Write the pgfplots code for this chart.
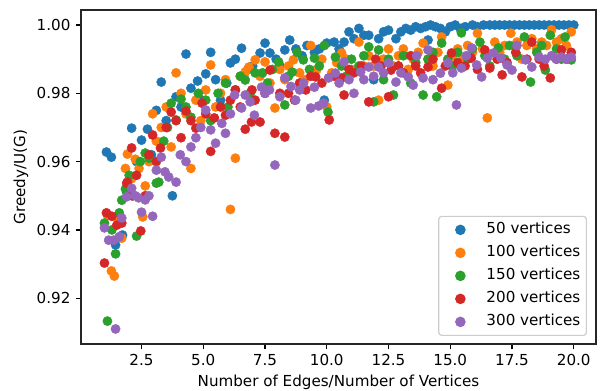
\documentclass[border=0pt]{standalone}
\usepackage{pgfplots}
\pgfplotsset{compat=1.18}
\usepackage{fontspec}
\setmainfont{DejaVu Sans}
\definecolor{c1}{HTML}{1F77B4}
\definecolor{c2}{HTML}{FF7F0E}
\definecolor{c3}{HTML}{2CA02C}
\definecolor{c4}{HTML}{D62728}
\definecolor{c5}{HTML}{9467BD}
\begin{document}
\fontsize{15.2}{18}\selectfont
\begin{tikzpicture}
\begin{axis}[
  scale only axis, width=515bp, height=334bp,
  xmin=0.05, xmax=20.9, ymin=0.9066, ymax=1.0044,
  xtick={2.5,5,7.5,10,12.5,15,17.5,20},
  ytick={0.92,0.94,0.96,0.98,1.00},
  /pgf/number format/assume math mode=true,
  xticklabel style={/pgf/number format/.cd, fixed, fixed zerofill, precision=1},
  yticklabel style={/pgf/number format/.cd, fixed, fixed zerofill, precision=2},
  scaled y ticks=false, scaled x ticks=false,
  tick align=outside, tick pos=left, major tick length=5.3bp,
  tick style={black, line width=1.2bp},
  axis line style={line width=1.2bp, black!85},
  xlabel={Number of Edges/Number of Vertices},
  ylabel={Greedy/U(G)},
  xlabel style={at={(axis description cs:0.5,-0.114)}, anchor=center, inner sep=0pt},
  ylabel style={at={(axis description cs:-0.1165,0.5)}, anchor=center, inner sep=0pt},
  every axis label/.append style={font=\fontsize{15.2}{18}\selectfont},
  ticklabel style={font=\fontsize{15.2}{18}\selectfont},
  legend style={draw=black!20, line width=1.2bp, rounded corners=3bp, fill=white, fill opacity=0.8, text opacity=1,
    font=\fontsize{15.2}{18}\selectfont, at={(0.9825,0.024)}, anchor=south east,
    inner xsep=6bp, inner ysep=6.5bp, row sep=9bp, column sep=0pt,
    nodes={inner xsep=0pt, inner ysep=0pt, text height=11bp, text depth=3bp}},
  legend cell align=left,
  legend image code/.code={\path (-15bp,0bp) (25.5bp,0bp); \draw[#1] plot coordinates {(0bp,0bp)};},
  every axis plot/.append style={only marks, mark=*, mark size=4.65bp},
]
\addplot[c1, mark options={draw=none, fill=c1, fill opacity=1}] coordinates {
(1.08,0.9628)(1.28,0.9613)(1.45,0.9356)(1.6,0.9430)(1.73,0.9385)(1.9,0.9510)(2.1,0.9698)(2.3,0.9600)(2.5,0.9663)(2.74,0.9695)(2.9,0.9620)(3.1,0.9750)(3.3,0.9833)(3.5,0.9720)(3.75,0.9500)(3.9,0.9790)(4.1,0.9760)(4.3,0.9915)(4.5,0.9815)(4.77,0.9836)(4.95,0.9780)(5.1,0.9857)(5.3,0.9920)(5.5,0.9840)(5.7,0.9780)(5.95,0.9830)(6.1,0.9889)(6.3,0.9900)(6.55,0.9932)(6.8,0.9870)(7.0,0.9880)(7.3,0.9918)(7.5,0.9947)(7.7,0.9918)(7.95,0.9900)(8.1,0.9880)(8.3,0.9927)(8.5,0.9956)(8.75,0.9930)(9.0,0.9910)(9.2,0.9940)(9.5,0.9920)(9.7,0.9930)(9.9,0.9780)(10.0,0.9947)(10.3,0.9950)(10.5,0.9930)(10.7,0.9950)(10.9,0.9980)(11.1,0.9960)(11.3,0.9990)(11.5,0.9970)(11.7,0.9970)(11.9,0.9840)(12.1,0.9960)(12.3,0.9980)(12.5,0.9985)(12.8,0.9960)(13.0,0.9980)(13.2,0.9990)(13.4,0.9985)(13.6,0.9995)(13.8,0.9990)(14.0,0.9995)(14.1,0.9956)(14.2,1.0000)(14.4,0.9995)(14.6,0.9990)(14.8,0.9980)(15.0,0.9995)(15.2,1.0000)(15.4,0.9990)(15.6,0.9995)(15.9,1.0000)(16.1,0.9995)(16.35,1.0000)(16.6,1.0000)(16.8,1.0000)(17.0,1.0000)(17.2,1.0000)(17.4,1.0000)(17.6,1.0000)(17.8,1.0000)(18.0,1.0000)(18.2,1.0000)(18.4,1.0000)(18.6,1.0000)(18.8,1.0000)(19.0,1.0000)(19.2,1.0000)(19.4,1.0000)(19.6,1.0000)(19.8,1.0000)(20.0,1.0000)
};
\addlegendentry{50 vertices}
\addplot[c2, mark options={draw=none, fill=c2, fill opacity=1}] coordinates {
(1.12,0.9444)(1.28,0.9280)(1.4,0.9265)(1.55,0.9430)(1.7,0.9376)(1.85,0.9580)(1.93,0.9622)(2.1,0.9550)(2.25,0.9607)(2.4,0.9580)(2.55,0.9438)(2.65,0.9529)(2.8,0.9600)(2.95,0.9740)(3.1,0.9660)(3.3,0.9700)(3.5,0.9760)(3.7,0.9643)(3.9,0.9860)(4.1,0.9800)(4.3,0.9740)(4.5,0.9580)(4.7,0.9780)(4.9,0.9720)(5.1,0.9810)(5.3,0.9883)(5.5,0.9760)(5.7,0.9800)(5.9,0.9840)(6.1,0.9460)(6.3,0.9610)(6.5,0.9850)(6.7,0.9862)(6.85,0.9877)(7.1,0.9898)(7.3,0.9850)(7.5,0.9892)(7.7,0.9830)(7.9,0.9757)(8.1,0.9870)(8.3,0.9840)(8.45,0.9880)(8.65,0.9898)(8.9,0.9860)(9.1,0.9840)(9.35,0.9940)(9.6,0.9870)(9.8,0.9900)(10.0,0.9760)(10.2,0.9860)(10.4,0.9890)(10.6,0.9918)(10.8,0.9900)(11.0,0.9870)(11.3,0.9950)(11.5,0.9880)(11.7,0.9910)(11.9,0.9880)(12.1,0.9780)(12.3,0.9900)(12.5,0.9930)(12.7,0.9880)(12.9,0.9910)(13.1,0.9930)(13.3,0.9870)(13.5,0.9900)(13.7,0.9920)(13.9,0.9947)(14.1,0.9900)(14.3,0.9880)(14.5,0.9920)(14.65,0.9965)(14.9,0.9824)(15.1,0.9910)(15.3,0.9930)(15.5,0.9900)(15.7,0.9940)(15.9,0.9920)(16.1,0.9976)(16.3,0.9930)(16.5,0.9728)(16.8,0.9950)(17.0,0.9920)(17.2,0.9940)(17.45,0.9976)(17.7,0.9950)(17.9,0.9900)(18.1,0.9940)(18.3,0.9960)(18.5,0.9930)(18.7,0.9950)(18.9,0.9940)(19.1,0.9986)(19.3,0.9950)(19.5,0.9960)(19.7,0.9940)(19.9,0.9980)
};
\addlegendentry{100 vertices}
\addplot[c3, mark options={draw=none, fill=c3, fill opacity=1}] coordinates {
(1.0,0.9420)(1.12,0.9133)(1.3,0.9400)(1.45,0.9330)(1.6,0.9450)(1.7,0.9487)(1.85,0.9520)(2.0,0.9560)(2.15,0.9500)(2.3,0.9382)(2.45,0.9600)(2.65,0.9625)(2.8,0.9610)(3.1,0.9537)(3.2,0.9540)(3.4,0.9660)(3.55,0.9700)(3.7,0.9771)(3.9,0.9722)(4.1,0.9783)(4.3,0.9760)(4.5,0.9730)(4.8,0.9800)(5.1,0.9780)(5.3,0.9720)(5.6,0.9800)(5.9,0.9830)(6.0,0.9760)(6.3,0.9810)(6.5,0.9850)(6.7,0.9839)(6.9,0.9800)(7.1,0.9860)(7.4,0.9860)(7.6,0.9830)(7.8,0.9870)(8.05,0.9892)(8.3,0.9766)(8.45,0.9850)(8.6,0.9862)(8.8,0.9920)(9.05,0.9898)(9.3,0.9870)(9.5,0.9903)(9.7,0.9880)(9.9,0.9940)(10.05,0.9745)(10.35,0.9906)(10.6,0.9880)(10.8,0.9850)(11.0,0.9900)(11.3,0.9880)(11.5,0.9910)(11.7,0.9936)(11.9,0.9775)(12.1,0.9927)(12.3,0.9840)(12.5,0.9900)(12.7,0.9795)(12.9,0.9880)(13.1,0.9910)(13.4,0.9830)(13.6,0.9890)(13.9,0.9795)(14.1,0.9900)(14.3,0.9920)(14.45,0.9790)(14.65,0.9947)(14.9,0.9900)(15.1,0.9880)(15.3,0.9920)(15.45,0.9977)(15.7,0.9900)(15.9,0.9930)(16.2,0.9950)(16.4,0.9910)(16.6,0.9880)(16.95,0.9933)(17.2,0.9900)(17.4,0.9940)(17.7,0.9910)(18.0,0.9965)(18.25,0.9833)(18.5,0.9920)(18.7,0.9940)(18.85,0.9868)(19.05,0.9970)(19.3,0.9930)(19.5,0.9900)(19.65,0.9965)(19.9,0.9898)
};
\addlegendentry{150 vertices}
\addplot[c4, mark options={draw=none, fill=c4, fill opacity=1}] coordinates {
(1.0,0.9303)(1.08,0.9450)(1.3,0.9440)(1.5,0.9414)(1.7,0.9420)(1.9,0.9537)(1.93,0.9540)(2.1,0.9640)(2.12,0.9500)(2.3,0.9560)(2.47,0.9397)(2.65,0.9500)(2.8,0.9620)(2.95,0.9678)(3.1,0.9600)(3.27,0.9640)(3.5,0.9700)(3.7,0.9745)(3.9,0.9720)(4.1,0.9670)(4.3,0.9748)(4.5,0.9720)(4.7,0.9698)(4.95,0.9771)(5.1,0.9740)(5.3,0.9630)(5.45,0.9728)(5.7,0.9760)(5.9,0.9736)(6.1,0.9780)(6.3,0.9810)(6.5,0.9760)(6.7,0.9695)(6.95,0.9716)(6.97,0.9810)(7.1,0.9780)(7.3,0.9716)(7.5,0.9800)(7.7,0.9868)(7.9,0.9683)(8.1,0.9800)(8.3,0.9672)(8.45,0.9800)(8.7,0.9780)(8.9,0.9830)(9.15,0.9810)(9.35,0.9850)(9.55,0.9848)(9.8,0.9830)(10.1,0.9722)(10.3,0.9850)(10.6,0.9845)(10.7,0.9795)(10.9,0.9870)(11.1,0.9860)(11.4,0.9880)(11.7,0.9775)(11.98,0.9900)(12.2,0.9880)(12.5,0.9790)(12.6,0.9868)(12.9,0.9880)(13.1,0.9860)(13.4,0.9910)(13.6,0.9880)(13.8,0.9860)(14.1,0.9877)(14.3,0.9900)(14.65,0.9815)(14.8,0.9880)(15.05,0.9918)(15.3,0.9890)(15.6,0.9880)(15.85,0.9903)(16.1,0.9870)(16.4,0.9927)(16.6,0.9874)(16.9,0.9900)(17.1,0.9854)(17.3,0.9890)(17.65,0.9920)(17.9,0.9848)(18.1,0.9900)(18.3,0.9950)(18.6,0.9900)(18.8,0.9880)(19.05,0.9845)(19.3,0.9900)(19.5,0.9927)(19.7,0.9900)(19.9,0.9920)
};
\addlegendentry{200 vertices}
\addplot[c5, mark options={draw=none, fill=c5, fill opacity=1}] coordinates {
(1.0,0.9406)(1.17,0.9370)(1.37,0.9370)(1.45,0.9110)(1.6,0.9380)(1.7,0.9435)(1.9,0.9497)(2.1,0.9522)(2.25,0.9500)(2.38,0.9494)(2.5,0.9452)(2.65,0.9488)(2.8,0.9500)(2.95,0.9440)(3.1,0.9575)(3.3,0.9613)(3.45,0.9570)(3.6,0.9555)(3.9,0.9540)(4.07,0.9620)(4.3,0.9600)(4.5,0.9643)(4.7,0.9670)(4.9,0.9700)(5.1,0.9751)(5.3,0.9693)(5.5,0.9654)(5.75,0.9712)(5.9,0.9683)(6.1,0.9740)(6.27,0.9795)(6.55,0.9757)(6.7,0.9795)(6.9,0.9775)(7.07,0.9736)(7.36,0.9818)(7.5,0.9800)(7.68,0.9810)(7.9,0.9590)(8.1,0.9790)(8.3,0.9845)(8.55,0.9820)(8.74,0.9780)(8.9,0.9810)(9.06,0.9830)(9.35,0.9757)(9.5,0.9818)(9.67,0.9763)(9.87,0.9771)(10.07,0.9845)(10.35,0.9859)(10.5,0.9830)(10.7,0.9892)(10.9,0.9840)(11.1,0.9800)(11.37,0.9862)(11.5,0.9840)(11.7,0.9877)(11.9,0.9850)(12.1,0.9877)(12.3,0.9860)(12.5,0.9889)(12.8,0.9833)(13.0,0.9860)(13.3,0.9848)(13.5,0.9824)(13.64,0.9910)(13.9,0.9845)(14.1,0.9927)(14.3,0.9840)(14.6,0.9859)(14.9,0.9889)(15.1,0.9860)(15.25,0.9766)(15.45,0.9874)(15.65,0.9910)(15.86,0.9933)(16.07,0.9883)(16.27,0.9848)(16.5,0.9903)(16.75,0.9918)(17.05,0.9903)(17.3,0.9883)(17.5,0.9868)(17.7,0.9940)(18.05,0.9898)(18.3,0.9877)(18.6,0.9906)(18.85,0.9900)(19.1,0.9910)(19.3,0.9900)(19.5,0.9906)(19.7,0.9900)(19.9,0.9906)
};
\addlegendentry{300 vertices}
\end{axis}
\pgfresetboundingbox
\path[use as bounding box] ([shift={(-81bp,-47bp)}]current axis.south west) rectangle ([shift={(5bp,10bp)}]current axis.north east);
\end{tikzpicture}
\end{document}
